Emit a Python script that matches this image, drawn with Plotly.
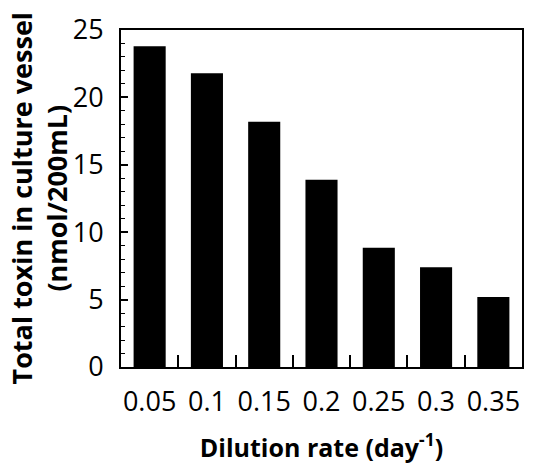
import plotly.graph_objects as go

categories = ["0.05", "0.1", "0.15", "0.2", "0.25", "0.3", "0.35"]
toxin = [23.8, 21.8, 18.2, 13.9, 8.85, 7.4, 5.2]
y_ticks = [0, 5, 10, 15, 20, 25]

fig = go.Figure(go.Bar(x=categories, y=toxin, marker=dict(color="black", line=dict(width=0)), width=0.56))

font_fam = "Open Sans"
# page body has an 8px margin, so the figure is shrunk and offset to compensate
fig.update_layout(
    width=533, height=460,
    margin=dict(l=113, r=19, t=22, b=101),
    plot_bgcolor="white", paper_bgcolor="white",
    showlegend=False,
    font=dict(family=font_fam, color="black"),
)
fig.update_xaxes(
    type="category", range=[-0.5, 6.5], automargin=False,
    showline=True, linecolor="black", linewidth=2, mirror=True,
    ticks="inside", tickson="boundaries", ticklen=12, tickwidth=1.5, tickcolor="black",
    tickfont=dict(size=27, family=font_fam), tickangle=0, ticklabelstandoff=10,
    showgrid=False,
    title=dict(text="<b>Dilution rate (day<sup>-1</sup>)</b>", font=dict(size=25, family=font_fam), standoff=21),
)
fig.update_yaxes(
    range=[0, 25], tickvals=y_ticks, automargin=False,
    showline=True, linecolor="black", linewidth=2, mirror=True,
    ticks="inside", ticklen=7, tickwidth=1.5, tickcolor="black",
    minor=dict(dtick=1, ticks="inside", ticklen=4, tickwidth=1, tickcolor="black", showgrid=False),
    tickfont=dict(size=27, family=font_fam), ticklabelstandoff=10,
    showgrid=False, zeroline=False,
)
fig.add_annotation(
    text="<b>Total toxin in culture vessel<br>(nmol/200mL)</b>",
    xref="paper", yref="paper", x=0, y=0.5, xshift=-83,
    xanchor="center", yanchor="middle", textangle=-90, showarrow=False,
    font=dict(size=27, family=font_fam, color="black"),
)
fig.write_html("out.html")
